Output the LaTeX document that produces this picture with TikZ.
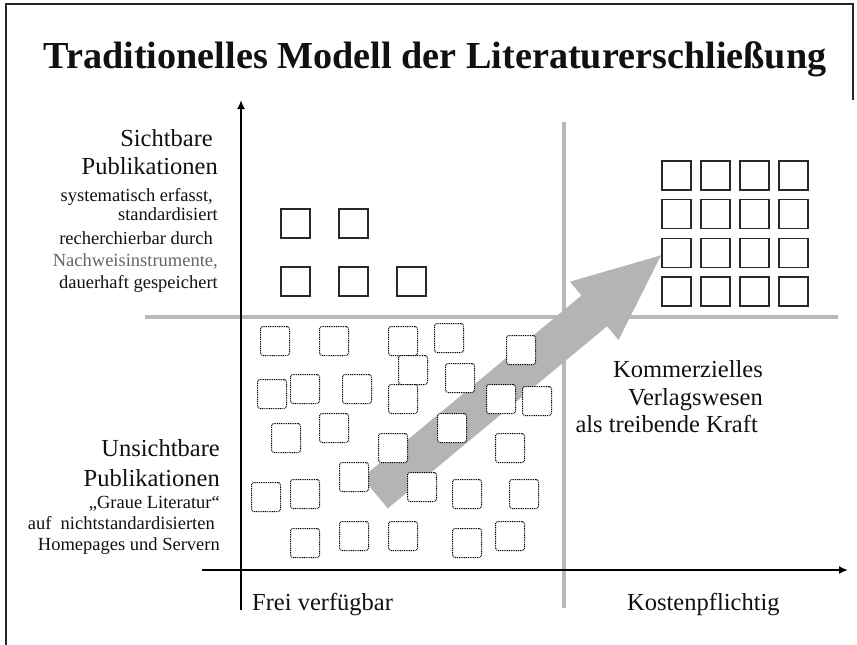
\documentclass[tikz,border=0pt]{standalone}
\usepackage{fontspec}
\setmainfont{Liberation Serif}
\usetikzlibrary{arrows.meta}
\definecolor{linegray}{RGB}{185,185,185}
\definecolor{arrowgray}{RGB}{180,180,180}
\definecolor{sqline}{RGB}{40,40,40}
\definecolor{txt}{RGB}{17,17,17}
\definecolor{softtxt}{RGB}{100,100,100}
\begin{document}
\begin{tikzpicture}[x=1pt,y=-1pt,
  solidsq/.style={draw=sqline,line width=1.3pt,fill=white,minimum size=29pt,inner sep=0pt,outer sep=0pt,anchor=north west},
  dotsq/.style={draw=black,line width=1pt,dash pattern=on 1pt off 0.8pt,rounded corners=2.5pt,fill=white,minimum size=29pt,inner sep=0pt,anchor=north west},
  bigtxt/.style={font=\fontsize{24.5}{29}\selectfont,text=txt,inner sep=0pt},
  smalltxt/.style={font=\fontsize{18.5}{22}\selectfont,text=txt,inner sep=0pt},
  axis/.style={line width=2.6pt,draw=black,-{Latex[length=9pt,width=8pt]}},
  divider/.style={line width=3.5pt,draw=linegray},
  frame/.style={line width=2pt,draw=black!85}]
\useasboundingbox (0,0) rectangle (857,645);
% frame
\coordinate (fbl) at (6,645);
\coordinate (ftl) at (6,4);
\coordinate (ftr) at (853,4);
\coordinate (fre) at (853,100);
\draw[frame] (fbl) -- (ftl) -- (ftr) -- (fre);
% title
\node[font=\fontsize{38.2}{42}\selectfont\bfseries,text=txt,inner sep=0pt,anchor=base] (title) at (435,68) {Traditionelles Modell der Literaturerschließung};
% dividers
\coordinate (hgl) at (145,317);
\coordinate (hgr) at (838,317);
\coordinate (vgt) at (564,122);
\coordinate (vgb) at (564,608);
\draw[divider] (hgl) -- (hgr);
\draw[divider] (vgt) -- (vgb);
% axes
\coordinate (yb) at (241,610);
\coordinate (yt) at (241,100);
\coordinate (xl) at (202,570);
\coordinate (xr) at (848,570);
\draw[axis] (yb) -- (yt);
\draw[axis] (xl) -- (xr);
% big gray arrow
\fill[arrowgray] (362.2,477.6) -- (581.4,295.5) -- (569.9,281.7) -- (661.1,255.3) -- (618.5,340.1) -- (607,326.3) -- (387.8,508.4) -- cycle;
% dotted squares (invisible publications)
\foreach \x/\y [count=\i] in {260/326,319/326,388/326,434/323,506/335,398/355,445/363,257/379,290/374,342/374,388/384,486/384,522/386,271/423,319/413,437/413,378/433,495/433,339/462,251/482,290/479,407/472,452/479,509/479,290/528,339/521,388/521,452/528,495/521}
  \node[dotsq] (d\i) at (\x,\y) {};
% solid squares (visible publications)
\foreach \x/\y [count=\i] in {281/209,339/209,281/267,339/267,397/267}
  \node[solidsq] (s\i) at (\x,\y) {};
% commercial grid
\foreach \r [count=\ri] in {161,199.5,238.5,277}
  \foreach \c [count=\ci] in {662,701,740,779}
    \node[solidsq] (g\ri\ci) at (\c,\r) {};
% left upper text
\node[bigtxt,anchor=base east] (l1) at (218,146) {Sichtbare\kern5pt};
\node[bigtxt,anchor=base east] (l2) at (218,174) {Publikationen};
\node[smalltxt,anchor=base east] (l3) at (218,201) {systematisch erfasst,\kern5pt};
\node[smalltxt,anchor=base east] (l4) at (218,220) {standardisiert};
\node[smalltxt,anchor=base east] (l5) at (218,244) {recherchierbar durch\kern5pt};
\node[smalltxt,anchor=base east,text=softtxt] (l6) at (218,266) {Nachweisinstrumente,};
\node[smalltxt,anchor=base east] (l7) at (218,288) {dauerhaft gespeichert};
% left lower text
\node[bigtxt,anchor=base east] (u1) at (220,456) {Unsichtbare};
\node[bigtxt,anchor=base east] (u2) at (220,486) {Publikationen};
\node[smalltxt,anchor=base east] (u3) at (220,508) {„Graue Literatur“};
\node[smalltxt,anchor=base east] (u4) at (220,529) {auf\ \ nichtstandardisierten\kern5pt};
\node[smalltxt,anchor=base east] (u5) at (220,550) {Homepages und Servern};
% right text
\node[bigtxt,anchor=base east] (k1) at (763,377) {Kommerzielles};
\node[bigtxt,anchor=base east] (k2) at (763,405) {Verlagswesen};
\node[bigtxt,anchor=base east] (k3) at (758,432) {als treibende Kraft};
% axis labels
\node[bigtxt,anchor=base west] (free) at (252,610) {Frei verfügbar};
\node[bigtxt,anchor=base west] (paid) at (627,610) {Kostenpflichtig};
\end{tikzpicture}
\end{document}
